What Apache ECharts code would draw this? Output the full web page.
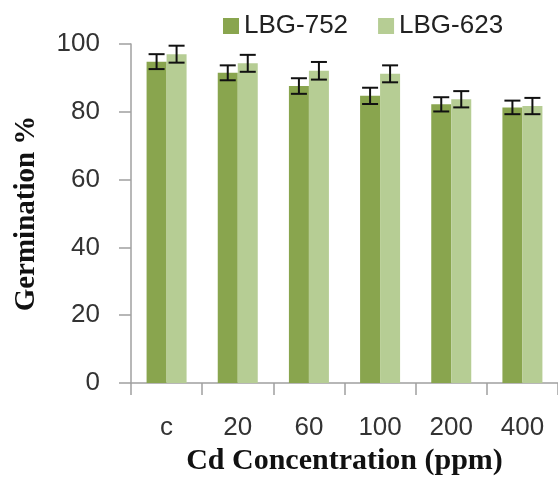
<!DOCTYPE html>
<html>
<head>
<meta charset="utf-8">
<script src="https://cdn.jsdelivr.net/npm/echarts@6/dist/echarts.min.js"></script>
<style>
html,body{margin:0;padding:0;background:#fff;}
#chart{width:558px;height:487px;}
</style>
</head>
<body>
<div id="chart"></div>
<script>
var categories = ['c', '20', '60', '100', '200', '400'];
var seriesNames = ['LBG-752', 'LBG-623'];
var valuesA = [94.8, 91.5, 87.6, 84.7, 82.2, 81.3];
var errorsA = [2.2, 2.2, 2.3, 2.4, 2.1, 2.0];
var valuesB = [97.0, 94.3, 92.1, 91.2, 83.7, 81.7];
var errorsB = [2.5, 2.5, 2.6, 2.5, 2.4, 2.4];
var yTicks = [0, 20, 40, 60, 80, 100];

var BAR_W = 20;
var colorA = '#89A54E';
var colorB = '#B6CD94';
var labelFont = 'Liberation Sans, Arial, sans-serif';
var serifFont = 'Liberation Serif, Times New Roman, serif';

function errorSeries(vals, errs, offset) {
  var data = vals.map(function (v, i) { return [i, v, errs[i]]; });
  return {
    type: 'custom',
    silent: true,
    z: 10,
    data: data,
    renderItem: function (params, api) {
      var i = api.value(0), v = api.value(1), e = api.value(2);
      var top = api.coord([i, v + e]);
      var bot = api.coord([i, v - e]);
      var x = top[0] + offset;
      var cap = 8;
      var st = { stroke: '#111', lineWidth: 2 };
      return {
        type: 'group',
        children: [
          { type: 'line', shape: { x1: x, y1: top[1], x2: x, y2: bot[1] }, style: st },
          { type: 'line', shape: { x1: x - cap, y1: top[1], x2: x + cap, y2: top[1] }, style: st },
          { type: 'line', shape: { x1: x - cap, y1: bot[1], x2: x + cap, y2: bot[1] }, style: st }
        ]
      };
    }
  };
}

var chart = echarts.init(document.getElementById('chart'), null, { renderer: 'canvas' });
chart.setOption({
  animation: false,
  backgroundColor: '#fff',
  legend: {
    data: seriesNames,
    left: 218,
    top: 8,
    itemWidth: 16,
    itemHeight: 16,
    itemGap: 30,
    icon: 'rect',
    textStyle: { fontFamily: labelFont, fontSize: 26, color: '#222' }
  },
  grid: { left: 131, right: -6, top: 44, bottom: 104, containLabel: false },
  xAxis: {
    type: 'category',
    data: categories,
    name: 'Cd Concentration (ppm)',
    nameLocation: 'middle',
    nameGap: 60,
    nameTextStyle: { fontFamily: serifFont, fontWeight: 'bold', fontSize: 30, color: '#111' },
    axisLine: { lineStyle: { color: '#a0a0a0', width: 1.5 } },
    axisTick: { show: true, length: 12, lineStyle: { color: '#a0a0a0', width: 1.5 } },
    axisLabel: { margin: 32, fontFamily: labelFont, fontSize: 26, color: '#333' }
  },
  yAxis: {
    type: 'value',
    min: 0,
    max: 100,
    interval: 20,
    name: 'Germination %',
    nameLocation: 'middle',
    nameGap: 90,
    nameTextStyle: { fontFamily: serifFont, fontWeight: 'bold', fontSize: 29, color: '#111' },
    axisLine: { show: true, lineStyle: { color: '#a0a0a0', width: 1.5 } },
    axisTick: { show: true, length: 12, lineStyle: { color: '#a0a0a0', width: 1.5 } },
    splitLine: { show: false },
    axisLabel: {
      margin: 31, fontFamily: labelFont, fontSize: 26, color: '#333',
      formatter: function (v) { return yTicks.indexOf(v) >= 0 ? String(v) : ''; }
    }
  },
  series: [
    { name: seriesNames[0], type: 'bar', data: valuesA, barWidth: BAR_W, barGap: '0%', itemStyle: { color: colorA } },
    { name: seriesNames[1], type: 'bar', data: valuesB, barWidth: BAR_W, barGap: '0%', itemStyle: { color: colorB } },
    errorSeries(valuesA, errorsA, -BAR_W / 2),
    errorSeries(valuesB, errorsB, BAR_W / 2)
  ]
});
</script>
</body>
</html>
